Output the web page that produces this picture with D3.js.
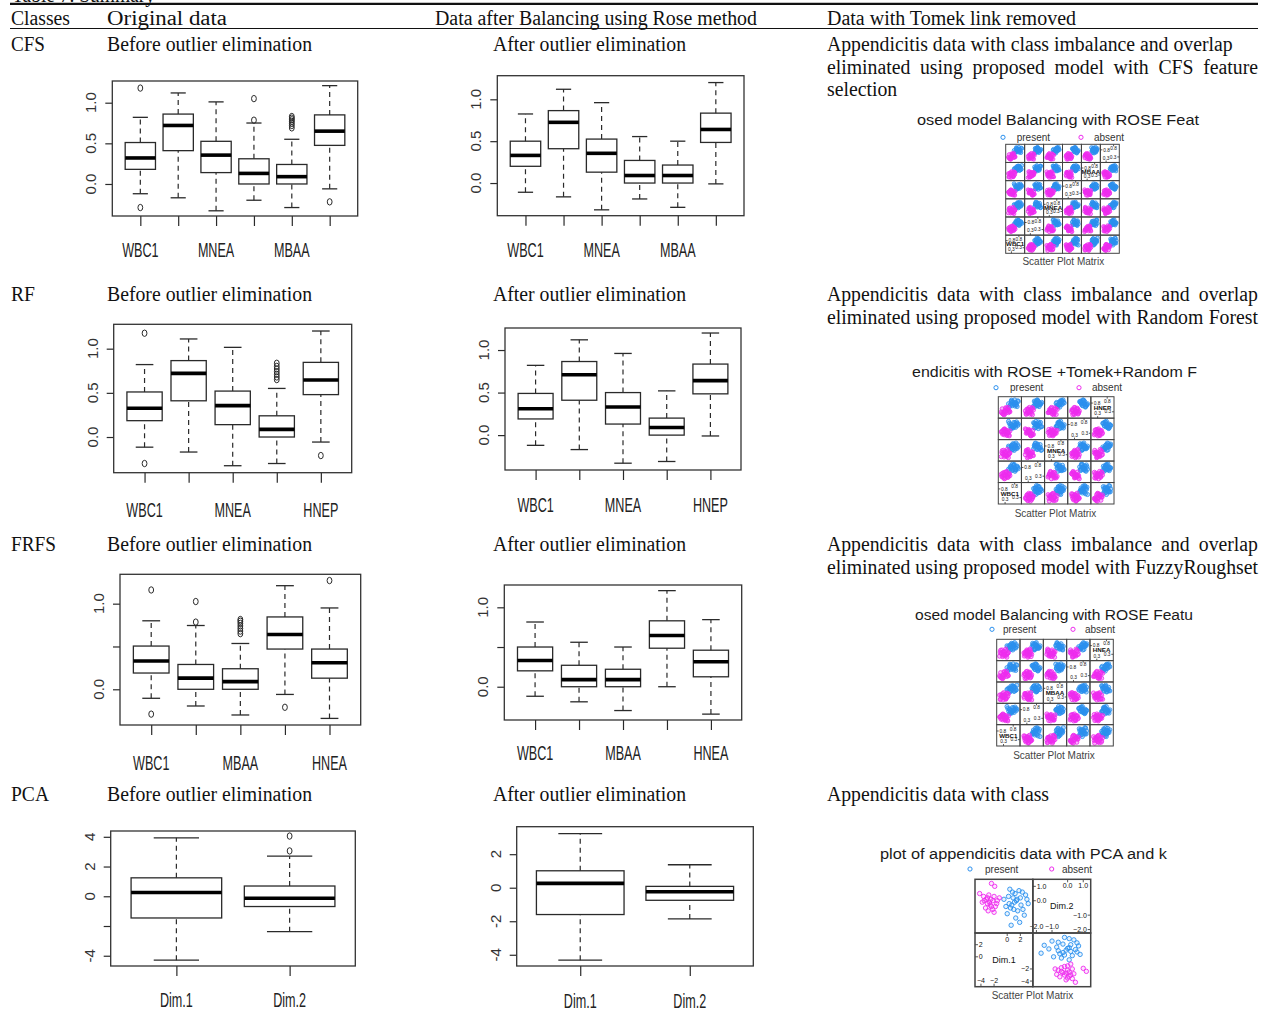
<!DOCTYPE html>
<html><head><meta charset="utf-8">
<script src="https://cdn.jsdelivr.net/npm/d3@7/dist/d3.min.js"></script>
<style>html,body{margin:0;padding:0;background:#fff}svg{display:block}</style>
</head><body>
<svg id="chart" width="1270" height="1025"></svg>
<script>
// ================= DATA =================
const tableTitle = "Table 7. Summary";
const headerLabels = ["Classes", "Original data", "Data after Balancing using Rose method", "Data with Tomek link removed"];
const classLabels = ["CFS", "RF", "FRFS", "PCA"];
const beforeLabel = "Before outlier elimination";
const afterLabel = "After outlier elimination";
const tomekLines = [
  ["Appendicitis data with class imbalance and overlap", "eliminated using proposed model with CFS feature", "selection"],
  ["Appendicitis data with class imbalance and overlap", "eliminated using proposed model with Random Forest"],
  ["Appendicitis data with class imbalance and overlap", "eliminated using proposed model with FuzzyRoughset"],
  ["Appendicitis data with class"]
];

// boxplot stats: [lower whisker, Q1, median, Q3, upper whisker]
const cfsNames = ["WBC1", "", "MNEA", "", "MBAA", ""];
const cfsBeforeStats = [
  [-0.12, 0.18, 0.32, 0.51, 0.82],
  [-0.17, 0.41, 0.72, 0.86, 1.12],
  [-0.33, 0.14, 0.355, 0.525, 1.01],
  [-0.20, 0.00, 0.13, 0.31, 0.75],
  [-0.29, 0.00, 0.09, 0.24, 0.55],
  [-0.06, 0.475, 0.65, 0.85, 1.21]
];
const cfsBeforeOutliers = [[1.18, -0.29], [], [], [0.785, 1.05], [0.69, 0.72, 0.745, 0.77, 0.79, 0.81, 0.83], [-0.22]];
const cfsAfterStats = [
  [-0.11, 0.20, 0.33, 0.50, 0.825],
  [-0.165, 0.41, 0.725, 0.865, 1.12],
  [-0.32, 0.13, 0.355, 0.525, 0.96],
  [-0.19, 0.00, 0.09, 0.27, 0.555],
  [-0.29, 0.00, 0.09, 0.215, 0.50],
  [-0.01, 0.485, 0.64, 0.835, 1.20]
];

const rfNames = ["WBC1", "", "MNEA", "", "HNEP"];
const rfBeforeStats = [
  [-0.115, 0.185, 0.325, 0.51, 0.82],
  [-0.17, 0.41, 0.72, 0.865, 1.11],
  [-0.325, 0.14, 0.355, 0.52, 1.015],
  [-0.30, 0.00, 0.087, 0.24, 0.55],
  [-0.057, 0.48, 0.645, 0.845, 1.20]
];
const rfBeforeOutliers = [[1.175, -0.30], [], [], [0.65, 0.68, 0.71, 0.74, 0.77, 0.80, 0.835], [-0.21]];
const rfAfterStats = [
  [-0.12, 0.19, 0.31, 0.49, 0.82],
  [-0.17, 0.41, 0.71, 0.865, 1.12],
  [-0.33, 0.13, 0.33, 0.50, 0.96],
  [-0.31, 0.00, 0.09, 0.20, 0.52],
  [-0.01, 0.485, 0.64, 0.835, 1.20]
];

const frfsNames = ["WBC1", "", "MBAA", "", "HNEA"];
const frfsBeforeStats = [
  [-0.105, 0.19, 0.33, 0.505, 0.80],
  [-0.195, 0.00, 0.13, 0.29, 0.745],
  [-0.30, 0.00, 0.09, 0.24, 0.535],
  [-0.06, 0.47, 0.64, 0.845, 1.21],
  [-0.34, 0.13, 0.31, 0.47, 0.95]
];
const frfsBeforeOutliers = [[1.16, -0.29], [0.785, 1.025], [0.65, 0.68, 0.71, 0.74, 0.77, 0.795, 0.815], [-0.21], [1.27]];
const frfsAfterStats = [
  [-0.12, 0.20, 0.33, 0.50, 0.815],
  [-0.19, 0.00, 0.09, 0.27, 0.56],
  [-0.30, 0.00, 0.09, 0.22, 0.50],
  [0.00, 0.485, 0.645, 0.83, 1.21],
  [-0.345, 0.125, 0.315, 0.46, 0.845]
];

const pcaNames = ["Dim.1", "Dim.2"];
const pcaBeforeStats = [[-4.3, -1.46, 0.25, 1.24, 3.93], [-2.38, -0.69, -0.13, 0.69, 2.7]];
const pcaBeforeOutliers = [[], [3.05, 4.05]];
const pcaAfterStats = [[-4.32, -1.6, 0.26, 1.01, 3.23], [-1.86, -0.75, -0.24, 0.08, 1.37]];

// y-axis ticks / labels
const unitTicks = [0, 0.5, 1.0];
const unitTickLabels = ["0.0", "0.5", "1.0"];
const unitTickLabelsSparse = ["0.0", "", "1.0"];
const pcaBeforeTicks = [-4, -2, 0, 2, 4];
const pcaBeforeTickLabels = ["-4", "", "0", "2", "4"];
const pcaAfterTicks = [-4, -2, 0, 2];
const pcaAfterTickLabels = ["-4", "-2", "0", "2"];

// scatter plot matrices
const splomTitles = ["osed model Balancing with ROSE Feat", "endicitis with ROSE +Tomek+Random F",
                     "osed model Balancing with ROSE Featu", "plot of appendicitis data with PCA and k"];
const legendLabels = ["present", "absent"];
const splomCaption = "Scatter Plot Matrix";
const splomPresent = [
  [0.62,0.71,0.55,0.68,0.74,0.60],[0.80,0.66,0.72,0.59,0.85,0.77],[0.55,0.84,0.63,0.77,0.58,0.69],
  [0.91,0.75,0.81,0.70,0.66,0.88],[0.47,0.58,0.69,0.82,0.71,0.52],[0.73,0.92,0.50,0.64,0.90,0.73],
  [0.66,0.61,0.88,0.55,0.62,0.81],[0.85,0.79,0.64,0.90,0.79,0.64],[0.58,0.70,0.76,0.73,0.54,0.91],
  [0.77,0.53,0.59,0.85,0.83,0.58],[0.69,0.87,0.83,0.61,0.69,0.70],[0.94,0.68,0.71,0.78,0.93,0.84],
  [0.52,0.76,0.57,0.66,0.77,0.62],[0.82,0.63,0.92,0.74,0.60,0.76],[0.71,0.89,0.67,0.87,0.86,0.67],
  [0.60,0.57,0.79,0.57,0.73,0.86],[0.88,0.82,0.61,0.81,0.64,0.55],[0.75,0.73,0.86,0.69,0.81,0.93],
  [0.43,0.65,0.74,0.93,0.68,0.71],[0.64,0.95,0.53,0.62,0.88,0.79],[0.79,0.60,0.78,0.76,0.57,0.66],
  [0.57,0.78,0.69,0.52,0.75,0.83]
];
const splomAbsent = [
  [0.25,0.30,0.18,0.35,0.22,0.28],[0.12,0.42,0.31,0.20,0.38,0.15],[0.38,0.18,0.45,0.28,0.15,0.40],
  [0.20,0.26,0.12,0.47,0.30,0.22],[0.45,0.35,0.28,0.15,0.45,0.33],[0.08,0.22,0.38,0.32,0.10,0.18],
  [0.30,0.48,0.22,0.40,0.27,0.45],[0.17,0.15,0.50,0.25,0.35,0.10],[0.35,0.38,0.15,0.12,0.18,0.37],
  [0.50,0.28,0.35,0.38,0.42,0.25],[0.22,0.10,0.25,0.50,0.08,0.30],[0.28,0.45,0.42,0.22,0.33,0.48],
  [0.42,0.20,0.08,0.30,0.48,0.20],[0.15,0.33,0.30,0.43,0.25,0.12],[0.33,0.52,0.20,0.18,0.40,0.35],
  [0.10,0.25,0.48,0.36,0.14,0.42],[0.47,0.40,0.33,0.10,0.28,0.26],[0.26,0.14,0.40,0.45,0.50,0.16],
  [0.40,0.31,0.26,0.27,0.20,0.50],[0.05,0.36,0.14,0.33,0.36,0.24],[0.36,0.24,0.55,0.41,0.12,0.38],
  [0.21,0.47,0.37,0.16,0.44,0.08]
];
const unitTicksDiag = [0.25, 0.75];
// PCA scores [Dim.1, Dim.2]
const pcaPresent = [
  [0.2,0.3],[0.8,0.6],[1.5,0.1],[2.1,-0.3],[0.5,-0.5],[1.1,-0.1],[2.8,0.4],[1.8,0.7],[0.0,-0.9],
  [1.3,-1.2],[2.4,-0.6],[0.9,0.2],[3.2,-0.2],[1.6,-0.7],[-0.5,0.1],[0.4,0.8],[2.0,0.2],[1.2,0.5],
  [2.6,-1.0],[0.7,-0.3],[1.9,-1.5],[-0.2,-0.4],[1.0,-0.6],[2.3,0.6],[0.6,-1.7],[3.0,0.1],[1.4,0.0],[0.3,-0.2]
];
const pcaAbsent = [
  [-2.5,0.1],[-3.0,-0.2],[-2.0,0.3],[-3.5,0.0],[-1.8,-0.4],[-2.8,0.4],[-4.2,0.5],[-2.2,-0.6],
  [-3.3,-0.5],[-1.5,0.0],[-2.6,-0.3],[-3.8,-0.1],[-2.0,-0.8],[-1.2,0.2],[-3.0,0.2],[-2.4,1.2],
  [-1.9,1.0],[-2.7,-0.1],[-3.6,0.3],[-2.2,0.0],[-1.6,-0.2],[-2.9,-0.7],[-3.2,0.1],[-2.4,-0.4]
];
const pcaDim1Ticks = [-4, -2, 0, 2];
const pcaDim2Ticks = [-2.0, -1.0, 0.0, 1.0];

// ================= RENDER =================
const svg = d3.select("#chart");
const SANS = "'Liberation Sans', Arial, Helvetica, sans-serif";
const SERIF = "'Liberation Serif', 'Times New Roman', Times, serif";
const INK = "#2a2a2a";
const classColors = ["#2b90ee", "#ee2cee"];

// ---- serif table text ----
const SERIF_SIZE = 20;
const measurer = svg.append("text").attr("font-family", SERIF).attr("font-size", SERIF_SIZE).attr("visibility", "hidden");
function natural(str) { measurer.text(str); return measurer.node().getComputedTextLength(); }
const serifScale = 205 / natural(beforeLabel);

function serifText(str, x0, base, opt) {
  opt = opt || {};
  if (opt.justifyTo) {
    const words = str.split(" ");
    const ws = words.map(w => natural(w) * serifScale);
    const gap = (opt.justifyTo - x0 - d3.sum(ws)) / (words.length - 1);
    let cx = x0;
    words.forEach((w, i) => {
      svg.append("text").attr("x", cx).attr("y", base).attr("font-family", SERIF).attr("font-size", SERIF_SIZE)
        .attr("fill", "#111").attr("textLength", ws[i]).attr("lengthAdjust", "spacingAndGlyphs").text(w);
      cx += ws[i] + gap;
    });
  } else {
    const w = opt.width || natural(str) * serifScale;
    svg.append("text").attr("x", x0).attr("y", base).attr("font-family", SERIF).attr("font-size", SERIF_SIZE)
      .attr("fill", "#111").attr("textLength", w).attr("lengthAdjust", "spacingAndGlyphs").text(str);
  }
}

// table frame
serifText(tableTitle, 12, 1.5, {width: 143});
svg.append("line").attr("x1", 10).attr("x2", 1258).attr("y1", 3.8).attr("y2", 3.8).attr("stroke", "#111").attr("stroke-width", 2.2);
svg.append("line").attr("x1", 10).attr("x2", 1258).attr("y1", 28.5).attr("y2", 28.5).attr("stroke", "#111").attr("stroke-width", 1);
const headerX = [11, 107, 435, 827];
const headerW = [59, 120, 322, 249];
headerLabels.forEach((h, i) => serifText(h, headerX[i], 25, {width: headerW[i]}));

const classW = [34, 24, 45, 38];
const tomekJustify = [[false, true, false], [true, true], [true, true], [false]];
classLabels.forEach((c, r) => {
  const b = 51 + 250 * r;
  serifText(c, 11, b, {width: classW[r]});
  serifText(beforeLabel, 107, b, {width: 205});
  serifText(afterLabel, 493, b, {width: 193});
  tomekLines[r].forEach((ln, k) => {
    serifText(ln, 827, b + 22.5 * k, tomekJustify[r][k] ? {justifyTo: 1258} : {});
  });
});

// ---- boxplots ----
function drawBox(p) {
  const n = p.stats.length, [L, T, R, B] = p.frame;
  const x = d3.scaleLinear().domain([0.5 - 0.04 * n, n + 0.5 + 0.04 * n]).range([L, R]);
  const y = d3.scaleLinear().domain(p.ydom).range([B, T]);
  const g = svg.append("g");
  const half = x(1.4) - x(1);

  const ya = g.append("g").attr("transform", `translate(${L},0)`)
    .call(d3.axisLeft(y).tickValues(p.yticks).tickSize(7).tickFormat(""));
  ya.select(".domain").remove();
  ya.selectAll(".tick line").attr("stroke", INK).attr("stroke-width", 1.2);
  const xa = g.append("g").attr("transform", `translate(0,${B})`)
    .call(d3.axisBottom(x).tickValues(d3.range(1, n + 1)).tickSize(10).tickFormat(""));
  xa.select(".domain").remove();
  xa.selectAll(".tick line").attr("stroke", INK).attr("stroke-width", 1.2);

  g.selectAll(".ylab").data(p.yticks.map((v, i) => ({v, t: p.ylabels[i]})).filter(d => d.t)).join("text")
    .attr("transform", d => `translate(${L - 16},${y(d.v)}) rotate(-90)`)
    .attr("text-anchor", "middle").attr("font-family", SANS).attr("font-size", 15).attr("fill", "#333")
    .text(d => d.t);
  g.selectAll(".xlab").data(p.names.map((t, i) => ({i: i + 1, t})).filter(d => d.t)).join("text")
    .attr("transform", d => `translate(${x(d.i)},${p.xlabBase}) scale(0.63,1)`)
    .attr("text-anchor", "middle").attr("font-family", SANS).attr("font-size", 20).attr("fill", "#222")
    .text(d => d.t);

  g.append("rect").attr("x", L).attr("y", T).attr("width", R - L).attr("height", B - T)
    .attr("fill", "none").attr("stroke", "#333").attr("stroke-width", 1.3);

  const data = p.stats.map((s, i) => ({i: i + 1, s, o: (p.out && p.out[i]) || []}));
  const bx = g.selectAll(".bx").data(data).join("g");
  bx.append("line").attr("x1", d => x(d.i)).attr("x2", d => x(d.i))
    .attr("y1", d => y(d.s[0])).attr("y2", d => y(d.s[1]))
    .attr("stroke", INK).attr("stroke-width", 1.2).attr("stroke-dasharray", "5,4");
  bx.append("line").attr("x1", d => x(d.i)).attr("x2", d => x(d.i))
    .attr("y1", d => y(d.s[3])).attr("y2", d => y(d.s[4]))
    .attr("stroke", INK).attr("stroke-width", 1.2).attr("stroke-dasharray", "5,4");
  [0, 4].forEach(k => {
    bx.append("line").attr("x1", d => x(d.i) - half / 2).attr("x2", d => x(d.i) + half / 2)
      .attr("y1", d => y(d.s[k])).attr("y2", d => y(d.s[k]))
      .attr("stroke", INK).attr("stroke-width", 1.3);
  });
  bx.append("rect").attr("x", d => x(d.i) - half).attr("width", 2 * half)
    .attr("y", d => y(d.s[3])).attr("height", d => y(d.s[1]) - y(d.s[3]))
    .attr("fill", "none").attr("stroke", INK).attr("stroke-width", 1.3);
  bx.append("line").attr("x1", d => x(d.i) - half).attr("x2", d => x(d.i) + half)
    .attr("y1", d => y(d.s[2])).attr("y2", d => y(d.s[2]))
    .attr("stroke", "#000").attr("stroke-width", 3.6);
  bx.each(function(d) {
    d3.select(this).selectAll("ellipse").data(d.o).join("ellipse")
      .attr("cx", x(d.i)).attr("cy", v => y(v)).attr("rx", 2.4).attr("ry", 3.2)
      .attr("fill", "none").attr("stroke", INK).attr("stroke-width", 1);
  });
}

const boxPanels = [
  {stats: cfsBeforeStats, out: cfsBeforeOutliers, names: cfsNames, yticks: unitTicks, ylabels: unitTickLabels,
   frame: [112.3, 81, 357.7, 216], ydom: [-0.394, 1.267], xlabBase: 256.7},
  {stats: cfsAfterStats, names: cfsNames, yticks: unitTicks, ylabels: unitTickLabels,
   frame: [497.3, 75.7, 744, 215.7], ydom: [-0.39, 1.282], xlabBase: 256.7},
  {stats: rfBeforeStats, out: rfBeforeOutliers, names: rfNames, yticks: unitTicks, ylabels: unitTickLabels,
   frame: [113.7, 324.3, 351.7, 472.7], ydom: [-0.404, 1.276], xlabBase: 516.7},
  {stats: rfAfterStats, names: rfNames, yticks: unitTicks, ylabels: unitTickLabels,
   frame: [505, 328, 741, 470], ydom: [-0.41, 1.259], xlabBase: 512},
  {stats: frfsBeforeStats, out: frfsBeforeOutliers, names: frfsNames, yticks: unitTicks, ylabels: unitTickLabelsSparse,
   frame: [120, 574.3, 360.7, 725], ydom: [-0.417, 1.343], xlabBase: 770},
  {stats: frfsAfterStats, names: frfsNames, yticks: unitTicks, ylabels: unitTickLabelsSparse,
   frame: [504.3, 585, 741.7, 720], ydom: [-0.419, 1.281], xlabBase: 760},
  {stats: pcaBeforeStats, out: pcaBeforeOutliers, names: pcaNames, yticks: pcaBeforeTicks, ylabels: pcaBeforeTickLabels,
   frame: [110.7, 831, 355.3, 966], ydom: [-4.69, 4.39], xlabBase: 1006.7},
  {stats: pcaAfterStats, names: pcaNames, yticks: pcaAfterTicks, ylabels: pcaAfterTickLabels,
   frame: [516.7, 826.7, 753.3, 966], ydom: [-4.67, 3.64], xlabBase: 1008}
];
boxPanels.forEach(drawBox);

// ---- scatter plot matrices ----
function drawDiag(cell, s, v, name, x0, y0, w, h) {
  const dom = s.domains[v], ticks = s.diagTicks[v], fmt = s.diagFmt[v];
  const sx = d3.scaleLinear().domain(dom).range([x0 + s.pad, x0 + w - s.pad]);
  const sy = d3.scaleLinear().domain(dom).range([y0 + h - s.pad, y0 + s.pad]);
  const mid = Math.ceil(ticks.length / 2);
  const lower = ticks.slice(0, mid), upper = ticks.slice(mid);
  const fs = s.diagFont, tl = s.tickLen;
  const txt = (t, x, y, anchor) => cell.append("text").attr("x", x).attr("y", y).attr("text-anchor", anchor)
    .attr("font-family", SANS).attr("font-size", fs).attr("fill", "#111").text(t);
  const ln = (a, b, c, d) => cell.append("line").attr("x1", a).attr("y1", b).attr("x2", c).attr("y2", d)
    .attr("stroke", "#111").attr("stroke-width", 0.7);
  upper.forEach(t => {
    ln(sx(t), y0, sx(t), y0 + tl); txt(fmt(t), sx(t), y0 + tl + fs * 0.8, "middle");
    ln(x0, sy(t), x0 + tl, sy(t)); txt(fmt(t), x0 + tl + 0.8, sy(t) + fs * 0.35, "start");
  });
  lower.forEach(t => {
    ln(sx(t), y0 + h - tl, sx(t), y0 + h); txt(fmt(t), sx(t), y0 + h - tl - 0.8, "middle");
    ln(x0 + w - tl, sy(t), x0 + w, sy(t)); txt(fmt(t), x0 + w - tl - 0.8, sy(t) + fs * 0.35, "end");
  });
  if (name) {
    cell.append("text").attr("x", x0 + w / 2).attr("y", y0 + h / 2 + s.nameFont * 0.36).attr("text-anchor", "middle")
      .attr("font-family", SANS).attr("font-size", s.nameFont).attr("font-weight", s.nameWeight).attr("fill", "#111").text(name);
  }
}

function drawSplom(s) {
  const g = svg.append("g");
  g.append("text").attr("x", s.title[0]).attr("y", s.title[2]).attr("textLength", s.title[1] - s.title[0])
    .attr("lengthAdjust", "spacingAndGlyphs").attr("font-family", SANS).attr("font-size", 14).attr("fill", "#1a1a1a")
    .text(s.titleText);
  legendLabels.forEach((lab, k) => {
    g.append("circle").attr("cx", s.legend[2 * k]).attr("cy", s.legendY).attr("r", 2.1).attr("fill", "none")
      .attr("stroke", classColors[k]).attr("stroke-width", 1);
    g.append("text").attr("x", s.legend[2 * k + 1]).attr("y", s.legendY + 3.5).attr("font-family", SANS)
      .attr("font-size", 10).attr("fill", "#333").text(lab);
  });
  const [X0, Y0, X1, Y1] = s.grid, n = s.vars.length, cw = (X1 - X0) / n, ch = (Y1 - Y0) / n;
  for (let r = 0; r < n; r++) for (let c = 0; c < n; c++) {
    const cx = X0 + c * cw, cy = Y0 + r * ch;
    const cell = g.append("g");
    if (c === n - 1 - r) {
      drawDiag(cell, s, s.vars[c], s.names[c], cx, cy, cw, ch);
    } else {
      const xv = s.vars[c], yv = s.vars[n - 1 - r];
      const sx = d3.scaleLinear().domain(s.domains[xv]).range([cx + s.pad, cx + cw - s.pad]);
      const sy = d3.scaleLinear().domain(s.domains[yv]).range([cy + ch - s.pad, cy + s.pad]);
      s.groups.forEach((rows, k) => {
        cell.selectAll(null).data(rows).join("circle")
          .attr("cx", d => sx(d[xv])).attr("cy", d => sy(d[yv])).attr("r", s.r)
          .attr("fill", classColors[k]).attr("fill-opacity", s.fillOp)
          .attr("stroke", classColors[k]).attr("stroke-width", s.sw).attr("stroke-opacity", 0.9);
      });
    }
    cell.append("rect").attr("x", cx).attr("y", cy).attr("width", cw).attr("height", ch)
      .attr("fill", "none").attr("stroke", "#444").attr("stroke-width", s.gridW);
  }
  g.append("text").attr("x", s.caption[0]).attr("y", s.caption[1]).attr("text-anchor", "middle")
    .attr("font-family", SANS).attr("font-size", 10).attr("fill", "#444").text(splomCaption);
}

const f1 = d3.format(".1f"), fd = d3.format("d");
const unitDomains = d3.range(6).map(() => [0, 1]);
const unitDiagTicks = d3.range(6).map(() => unitTicksDiag);
const unitFmt = d3.range(6).map(() => f1);
const splomBase = {groups: [splomPresent, splomAbsent], domains: unitDomains, diagTicks: unitDiagTicks, diagFmt: unitFmt,
                   pad: 2, diagFont: 4.8, tickLen: 2, nameFont: 6.2, nameWeight: "bold", gridW: 1, fillOp: 0.35};
const sploms = [
  Object.assign({}, splomBase, {titleText: splomTitles[0], title: [917, 1199, 125], legendY: 137.3,
    legend: [1003, 1016.7, 1081, 1094], grid: [1005.7, 144.3, 1119.3, 253.3], vars: [0, 1, 2, 3, 4, 5],
    names: ["WBC1", "", "MNEA", "", "MBAA", ""], r: 1.9, sw: 0.9, caption: [1063.3, 265]}),
  Object.assign({}, splomBase, {titleText: splomTitles[1], title: [912, 1197, 377], legendY: 387.7,
    legend: [996, 1010, 1079, 1092], grid: [998.3, 396.7, 1114, 504], vars: [0, 1, 2, 3, 5],
    names: ["WBC1", "", "MNEA", "", "HNEP"], r: 2.1, sw: 0.9, caption: [1055.5, 516.8]}),
  Object.assign({}, splomBase, {titleText: splomTitles[2], title: [915, 1193, 620], legendY: 629.3,
    legend: [992, 1003, 1073, 1085], grid: [996.7, 639.3, 1113.3, 746], vars: [0, 3, 4, 5, 2],
    names: ["WBC1", "", "MBAA", "", "HNEA"], r: 2.1, sw: 0.9, caption: [1054, 758.5]}),
  {groups: [pcaPresent, pcaAbsent], domains: [[-4.6, 3.6], [-2.1, 1.35]], diagTicks: [pcaDim1Ticks, pcaDim2Ticks],
   diagFmt: [fd, f1], pad: 2, diagFont: 7, tickLen: 3, nameFont: 9, nameWeight: "normal", gridW: 1.5, fillOp: 0.12,
   titleText: splomTitles[3], title: [880, 1167, 859], legendY: 869, legend: [970, 985, 1051.7, 1062],
   grid: [975, 879.3, 1090.7, 986.7], vars: [0, 1], names: pcaNames, r: 2.2, sw: 1, caption: [1032.5, 998.5]}
];
sploms.forEach(drawSplom);
measurer.remove();
</script>
</body></html>
